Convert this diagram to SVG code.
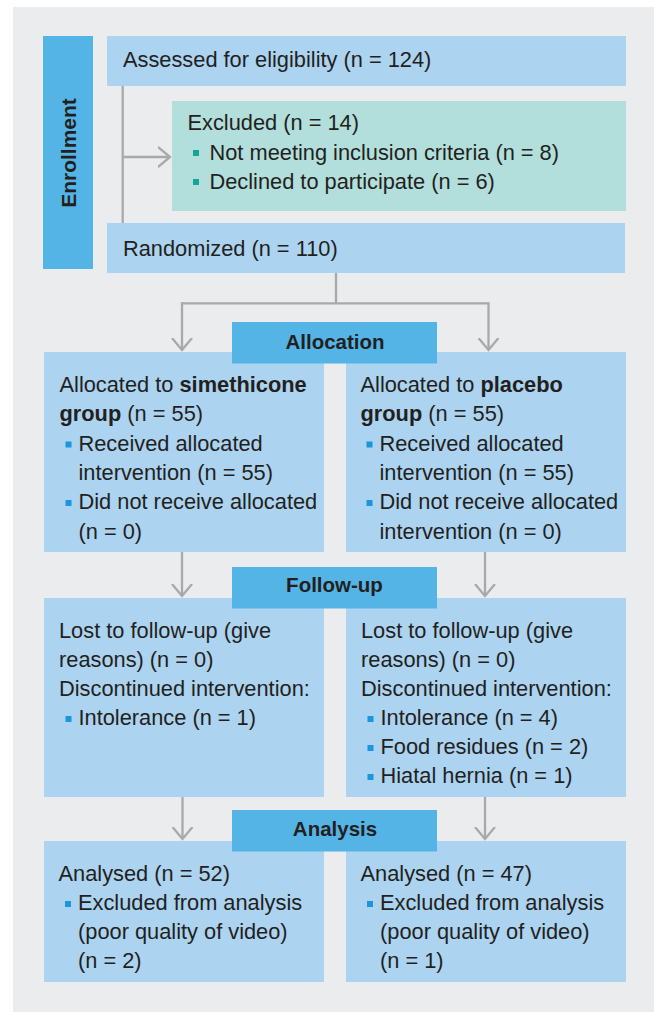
<svg xmlns="http://www.w3.org/2000/svg" width="654" height="1012" viewBox="0 0 654 1012">
<style>
.bg{fill:#ebeced}
.box{fill:#acd3f0}
.hdr{fill:#55b4e6}
.exc{fill:#b2dedc}
.t{font-family:"Liberation Sans",Arial,sans-serif;font-size:21.8px;fill:#231f20}
.b{font-weight:bold}
.h{font-family:"Liberation Sans",Arial,sans-serif;font-size:20.5px;font-weight:bold;fill:#231f20;text-anchor:middle}
.bul{fill:#1b95db}
.bulT{fill:#14a596}
.ln{fill:none;stroke:#a8a9ab;stroke-width:2.3}
</style>
<defs>
<marker id="ah" viewBox="-12 -11 14 22" markerWidth="14" markerHeight="22" refX="0" refY="0" orient="auto" markerUnits="userSpaceOnUse">
<path d="M-12,-10 L0,0 L-12,10" fill="none" stroke="#a8a9ab" stroke-width="2.3"/>
</marker>
</defs>
<rect class="bg" x="13" y="7" width="641" height="1005"/>

<g id="connectors">
<path class="ln" d="M122.7,86 V223"/>
<path class="ln" d="M122.7,157 H170" marker-end="url(#ah)"/>
<path class="ln" d="M336,273 V303.3"/>
<path class="ln" d="M182,303.3 H488.5"/>
<path class="ln" d="M182,302.2 V350" marker-end="url(#ah)"/>
<path class="ln" d="M488.5,302.2 V350" marker-end="url(#ah)"/>
<path class="ln" d="M182,552 V596" marker-end="url(#ah)"/>
<path class="ln" d="M485,552 V596" marker-end="url(#ah)"/>
<path class="ln" d="M182.5,797 V839" marker-end="url(#ah)"/>
<path class="ln" d="M485,797 V839" marker-end="url(#ah)"/>
</g>

<g id="enrollment">
<rect class="hdr" x="43" y="36" width="50" height="233"/>
<text class="h" transform="translate(76,153) rotate(-90)" style="font-size:21px">Enrollment</text>
</g>

<g id="assessed">
<rect class="box" x="107" y="36" width="519" height="50"/>
<text class="t" x="123" y="66.5">Assessed for eligibility (n = 124)</text>
</g>

<g id="excluded">
<rect class="exc" x="172" y="101" width="454" height="110"/>
<text class="t" x="187.5" y="129.5">Excluded (n = 14)</text>
<rect class="bulT" x="193" y="150" width="6" height="6"/>
<text class="t" x="209.5" y="159.5">Not meeting inclusion criteria (n = 8)</text>
<rect class="bulT" x="193" y="179" width="6" height="6"/>
<text class="t" x="209.5" y="188.5">Declined to participate (n = 6)</text>
</g>

<g id="randomized">
<rect class="box" x="107" y="223" width="518" height="50"/>
<text class="t" x="123" y="256">Randomized (n = 110)</text>
</g>

<g id="alloc-left">
<rect class="box" x="44" y="352" width="280" height="200"/>
<text class="t" x="59.5" y="391.5">Allocated to <tspan class="b">simethicone</tspan></text>
<text class="t" x="59.5" y="421"><tspan class="b">group</tspan> (n = 55)</text>
<rect class="bul" x="65.5" y="441.5" width="6" height="6"/>
<text class="t" x="78.5" y="450.5">Received allocated</text>
<text class="t" x="78.5" y="479.5">intervention (n = 55)</text>
<rect class="bul" x="65.5" y="500" width="6" height="6"/>
<text class="t" x="78.5" y="509">Did not receive allocated</text>
<text class="t" x="78.5" y="538.5">(n = 0)</text>
</g>

<g id="alloc-right">
<rect class="box" x="346" y="352" width="280" height="200"/>
<text class="t" x="360.5" y="391.5">Allocated to <tspan class="b">placebo</tspan></text>
<text class="t" x="360.5" y="421"><tspan class="b">group</tspan> (n = 55)</text>
<rect class="bul" x="366.5" y="441.5" width="6" height="6"/>
<text class="t" x="379.5" y="450.5">Received allocated</text>
<text class="t" x="379.5" y="479.5">intervention (n = 55)</text>
<rect class="bul" x="366.5" y="500" width="6" height="6"/>
<text class="t" x="379.5" y="509">Did not receive allocated</text>
<text class="t" x="379.5" y="538.5">intervention (n = 0)</text>
</g>

<g id="allocation-header">
<rect class="hdr" x="232" y="322" width="205" height="41.5"/>
<text class="h" x="335" y="348.5">Allocation</text>
</g>

<g id="follow-left">
<rect class="box" x="44" y="598" width="280" height="199"/>
<text class="t" x="59" y="637.5">Lost to follow-up (give</text>
<text class="t" x="59" y="666.5">reasons) (n = 0)</text>
<text class="t" x="59" y="695.5">Discontinued intervention:</text>
<rect class="bul" x="65.5" y="716" width="6" height="6"/>
<text class="t" x="78.5" y="725">Intolerance (n = 1)</text>
</g>

<g id="follow-right">
<rect class="box" x="346" y="598" width="280" height="199"/>
<text class="t" x="361" y="637.5">Lost to follow-up (give</text>
<text class="t" x="361" y="666.5">reasons) (n = 0)</text>
<text class="t" x="361" y="695.5">Discontinued intervention:</text>
<rect class="bul" x="367.5" y="716" width="6" height="6"/>
<text class="t" x="380.5" y="725">Intolerance (n = 4)</text>
<rect class="bul" x="367.5" y="745" width="6" height="6"/>
<text class="t" x="380.5" y="754">Food residues (n = 2)</text>
<rect class="bul" x="367.5" y="774" width="6" height="6"/>
<text class="t" x="380.5" y="783">Hiatal hernia (n = 1)</text>
</g>

<g id="followup-header">
<rect class="hdr" x="232" y="567" width="205" height="41.5"/>
<text class="h" x="334.5" y="592">Follow-up</text>
</g>

<g id="analysis-left">
<rect class="box" x="44" y="841" width="280" height="141"/>
<text class="t" x="58.5" y="880.5">Analysed (n = 52)</text>
<rect class="bul" x="65" y="901" width="6" height="6"/>
<text class="t" x="78" y="910">Excluded from analysis</text>
<text class="t" x="78" y="939">(poor quality of video)</text>
<text class="t" x="78" y="968">(n = 2)</text>
</g>

<g id="analysis-right">
<rect class="box" x="346" y="841" width="280" height="141"/>
<text class="t" x="360.5" y="880.5">Analysed (n = 47)</text>
<rect class="bul" x="367" y="901" width="6" height="6"/>
<text class="t" x="380" y="910">Excluded from analysis</text>
<text class="t" x="380" y="939">(poor quality of video)</text>
<text class="t" x="380" y="968">(n = 1)</text>
</g>

<g id="analysis-header">
<rect class="hdr" x="232" y="810" width="205" height="41.5"/>
<text class="h" x="335" y="836">Analysis</text>
</g>
</svg>
